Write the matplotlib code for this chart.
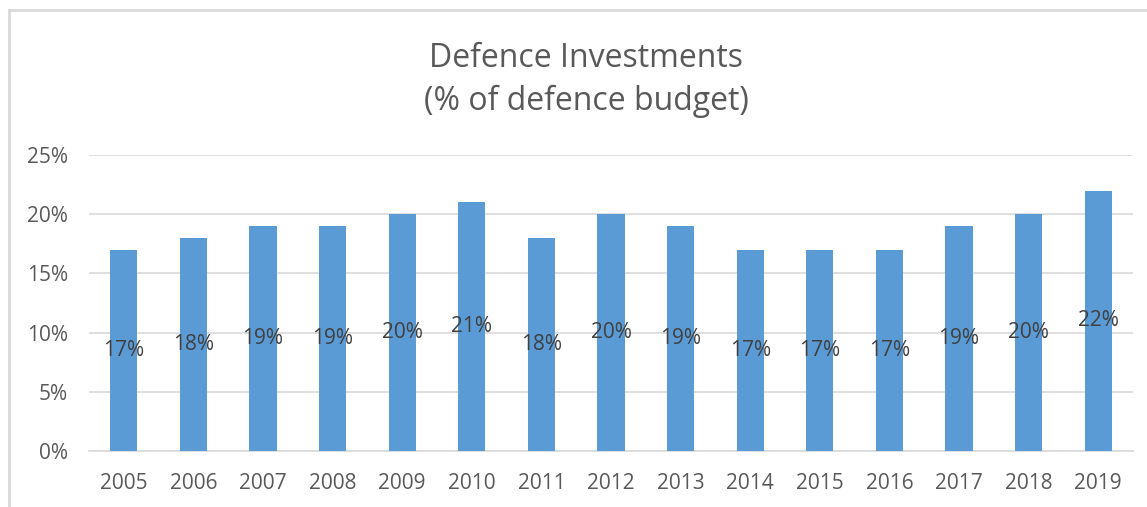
import matplotlib
matplotlib.use("Agg")
import matplotlib.pyplot as plt
from matplotlib.lines import Line2D
from matplotlib.ticker import FuncFormatter, MultipleLocator

years = ["2005", "2006", "2007", "2008", "2009", "2010", "2011", "2012",
         "2013", "2014", "2015", "2016", "2017", "2018", "2019"]
investment_share = [17, 18, 19, 19, 20, 21, 18, 20, 19, 17, 17, 17, 19, 20, 22]

plt.rcParams["font.family"] = ["Open Sans", "DejaVu Sans"]

BAR = "#5B9BD5"
TXT = "#595959"
GRID = "#D9D9D9"

fig = plt.figure(figsize=(11.47, 5.07), dpi=100)
ax = fig.add_axes([0.0776, 0.1105, 0.9102, 0.5838])

x = list(range(len(years)))
vals = [v / 100 for v in investment_share]
bars = ax.bar(x, vals, width=0.39, color=BAR, zorder=3)

for xi, v, lab in zip(x, vals, investment_share):
    ax.text(xi, v / 2, f"{lab}%", ha="center", va="center",
            fontsize=15, color="#404040", zorder=4)

ax.set_xlim(-0.5, len(years) - 0.5)
ax.set_ylim(0, 0.25)
ax.yaxis.set_major_locator(MultipleLocator(0.05))
ax.yaxis.set_major_formatter(FuncFormatter(lambda y, _: f"{y*100:.0f}%"))
ax.set_xticks(x)
ax.set_xticklabels(years)
ax.grid(axis="y", color=GRID, linewidth=1.2, zorder=0)
for s in ["top", "right", "left"]:
    ax.spines[s].set_visible(False)
ax.spines["bottom"].set_color(GRID)
ax.spines["bottom"].set_linewidth(1.2)
ax.tick_params(axis="both", length=0, labelsize=15, labelcolor=TXT)
ax.tick_params(axis="x", pad=16)
ax.tick_params(axis="y", pad=15)

fig.text(0.511, 0.885, "Defence Investments", ha="center", va="center",
         fontsize=23, color=TXT)
fig.text(0.511, 0.800, "(% of defence budget)", ha="center", va="center",
         fontsize=23, color=TXT)

# chart frame (left and top edges)
fig.add_artist(Line2D([0.0075, 0.0075], [0.0, 0.981], transform=fig.transFigure,
                      color=GRID, linewidth=2))
fig.add_artist(Line2D([0.0075, 1.0], [0.981, 0.981], transform=fig.transFigure,
                      color=GRID, linewidth=2))

fig.savefig("out.png", dpi=100, facecolor="white")
